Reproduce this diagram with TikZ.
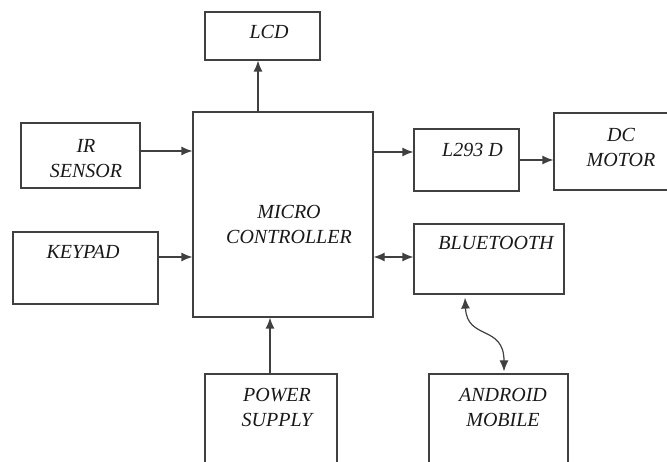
\documentclass[tikz,border=0pt]{standalone}
\usepackage{fontspec}
\setmainfont{Liberation Serif}
\usetikzlibrary{arrows.meta,calc}
\begin{document}
\begin{tikzpicture}[x=1pt,y=-1pt,
  line/.style={draw=black!75,line width=1.2pt},
  blk/.style={line,rectangle,inner sep=0pt,fill=none},
  lbl/.style={font=\fontsize{20}{25}\selectfont\itshape,align=center,inner sep=0pt,text=black!90},
  tip/.tip={Latex[length=11pt,width=9pt]},
  arr/.style={line,-tip},
  darr/.style={line,tip-tip}]
\useasboundingbox (0,0) rectangle (667,462);
% boxes
\node[blk,minimum width=115pt,minimum height=48pt] (lcd) at (262.5,36) {};
\node[blk,minimum width=119pt,minimum height=65pt] (ir) at (80.5,155.5) {};
\node[blk,minimum width=145pt,minimum height=72pt] (key) at (85.5,268) {};
\node[blk,minimum width=180pt,minimum height=205pt] (mc) at (283,214.5) {};
\node[blk,minimum width=105pt,minimum height=62pt] (l293) at (466.5,160) {};
\node[blk,minimum width=130pt,minimum height=77pt] (dc) at (619,151.5) {};
\node[blk,minimum width=150pt,minimum height=70pt] (bt) at (489,259) {};
\node[blk,minimum width=132pt,minimum height=110pt] (ps) at (271,429) {};
\node[blk,minimum width=139pt,minimum height=110pt] (and) at (498.5,429) {};
% labels
\node[lbl] (tlcd) at (269,32) {LCD};
\node[lbl] (tir) at (86,158.5) {IR\\SENSOR};
\node[lbl] (tkey) at (83,252) {KEYPAD};
\node[lbl] (tmc) at (289,224.5) {MICRO\\CONTROLLER};
\node[lbl] (tl293) at (472.5,150) {L293 D};
\node[lbl] (tdc) at (621,147.5) {DC\\MOTOR};
\node[lbl] (tbt) at (496,243) {BLUETOOTH};
\node[lbl] (tps) at (277,407.5) {POWER\\SUPPLY};
\node[lbl] (tand) at (503,407.5) {ANDROID\\MOBILE};
% connectors
\draw[arr] ($(mc.north)+(-25,0)$) -- ($(lcd.south)+(-4.5,0)$);
\draw[arr] ($(ir.east)+(0,-4.5)$) -- ($(ir.east -| mc.west)+(0,-4.5)$);
\draw[arr] ($(key.east)+(0,-11)$) -- ($(key.east -| mc.west)+(0,-11)$);
\draw[arr] ($(l293.west -| mc.east)+(0,-8)$) -- ($(l293.west)+(0,-8)$);
\draw[arr] (l293.east) -- (l293.east -| dc.west);
\draw[darr] ($(bt.west -| mc.east)+(0,-2)$) -- ($(bt.west)+(0,-2)$);
\draw[arr] ($(ps.north)+(-1,0)$) -- ($(ps.north |- mc.south)+(-1,0)$);
\draw[darr] ($(bt.south)+(-24,3)$) .. controls +(2,43) and +(0,-47) .. ($(and.north)+(5.5,-2)$);
\end{tikzpicture}
\end{document}
